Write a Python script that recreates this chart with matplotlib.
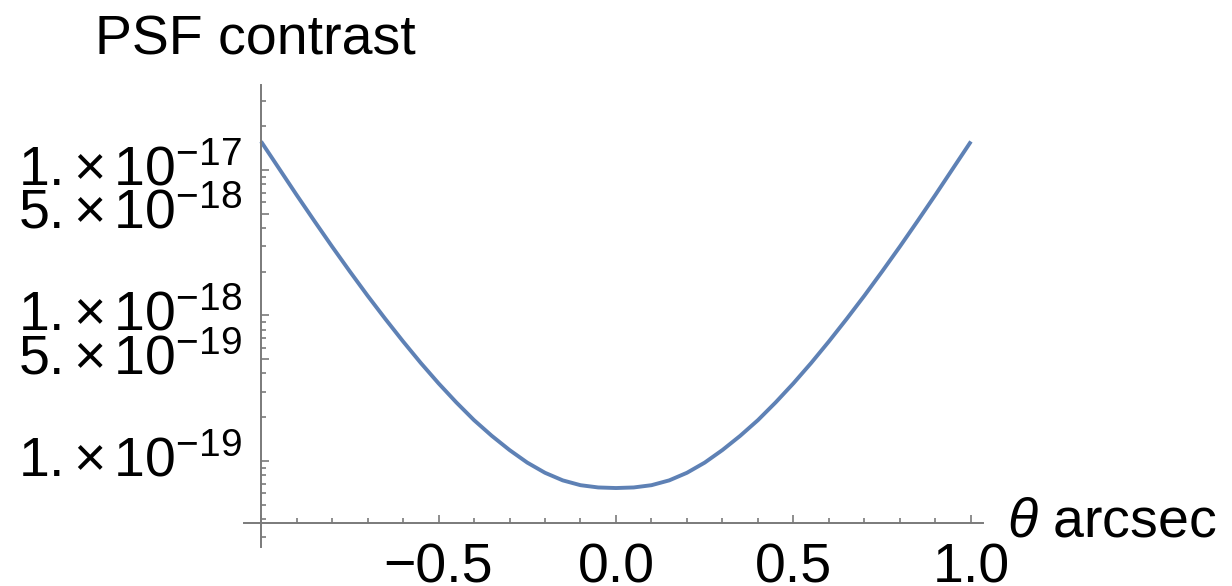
""" PSF contrast against angle, Mathematica-style log plot """

import matplotlib
matplotlib.use("Agg")
import matplotlib.pyplot as plt
from matplotlib.ticker import FixedLocator, FixedFormatter, LogLocator, NullFormatter
from matplotlib.transforms import ScaledTranslation

plt.rcParams["font.family"] = ["Liberation Sans", "DejaVu Sans"]
plt.rcParams["mathtext.fontset"] = "custom"
plt.rcParams["mathtext.rm"] = "Liberation Sans"
plt.rcParams["mathtext.it"] = "Liberation Sans:italic"

# angle (arcsec) and contrast
theta = [-1.00, -0.95, -0.90, -0.85, -0.80, -0.75, -0.70, -0.65, -0.60, -0.55,
         -0.50, -0.45, -0.40, -0.35, -0.30, -0.25, -0.20, -0.15, -0.10, -0.05,
         0.00, 0.05, 0.10, 0.15, 0.20, 0.25, 0.30, 0.35, 0.40, 0.45,
         0.50, 0.55, 0.60, 0.65, 0.70, 0.75, 0.80, 0.85, 0.90, 0.95, 1.00]
contrast = [1.57e-17, 1.03e-17, 6.75e-18, 4.47e-18, 2.98e-18, 2.01e-18, 1.37e-18,
            9.48e-19, 6.64e-19, 4.72e-19, 3.42e-19, 2.53e-19, 1.91e-19, 1.49e-19,
            1.19e-19, 9.75e-20, 8.30e-20, 7.36e-20, 6.82e-20, 6.58e-20,
            6.52e-20,
            6.58e-20, 6.82e-20, 7.36e-20, 8.30e-20, 9.75e-20, 1.19e-19, 1.49e-19,
            1.91e-19, 2.53e-19, 3.42e-19, 4.72e-19, 6.64e-19, 9.48e-19, 1.37e-18,
            2.01e-18, 2.98e-18, 4.47e-18, 6.75e-18, 1.03e-17, 1.57e-17]

xtick_vals = [-1.0, -0.5, 0.0, 0.5, 1.0]
xtick_labels = ["", "\u22120.5", "0.0", "0.5", "1.0"]
ytick_vals = [1e-19, 5e-19, 1e-18, 5e-18, 1e-17]
ytick_labels = [r"$\mathregular{1.{\times}\,10^{-19}}$",
                r"$\mathregular{5.{\times}\,10^{-19}}$",
                r"$\mathregular{1.{\times}\,10^{-18}}$",
                r"$\mathregular{5.{\times}\,10^{-18}}$",
                r"$\mathregular{1.{\times}\,10^{-17}}$"]

AXIS_GREY = "#7a7a7a"
LINE_BLUE = "#5e81b5"
FS = 40

fig = plt.figure(figsize=(12.32, 5.86), dpi=100)
ax = fig.add_axes([244 / 1232, 1 - 547 / 586, 739 / 1232, 462 / 586])

ax.plot(theta, contrast, color=LINE_BLUE, lw=2.8, solid_joinstyle="round",
        solid_capstyle="butt", clip_on=False)

ax.set_yscale("log")
ax.set_xlim(-1.048, 1.034)
ax.set_ylim(10 ** -19.591, 10 ** -16.416)

for side in ("top", "right"):
    ax.spines[side].set_visible(False)
ax.spines["left"].set_position(("data", -1.0))
ax.spines["bottom"].set_position(("data", 10 ** -19.426))
for side in ("left", "bottom"):
    ax.spines[side].set_color(AXIS_GREY)
    ax.spines[side].set_linewidth(1.4)

ax.xaxis.set_major_locator(FixedLocator(xtick_vals))
ax.xaxis.set_major_formatter(FixedFormatter(xtick_labels))
ax.xaxis.set_minor_locator(FixedLocator([i / 10 for i in range(-10, 11)]))

ax.yaxis.set_major_locator(FixedLocator(ytick_vals))
ax.yaxis.set_major_formatter(FixedFormatter(ytick_labels))
ax.yaxis.set_minor_locator(LogLocator(base=10, subs=range(2, 10), numticks=20))
ax.yaxis.set_minor_formatter(NullFormatter())

ax.tick_params(which="both", direction="in", color=AXIS_GREY, width=1.2,
               labelsize=FS, labelcolor="black")
ax.tick_params(which="major", length=6)
ax.tick_params(which="minor", length=3.5)
ax.tick_params(axis="x", which="major", pad=14)
ax.tick_params(axis="y", which="major", pad=13.5)

# lift the y labels so the mantissa, not the whole label, sits on the tick
lift = ScaledTranslation(0, 5 / 100, fig.dpi_scale_trans)
for lab in ax.get_yticklabels():
    lab.set_transform(lab.get_transform() + lift)

ax.text(-0.2016, 1.065, "PSF contrast", transform=ax.transAxes,
        fontsize=FS, ha="left", va="baseline")
ax.text(1.0325, 0.052, r"$\theta$ arcsec", transform=ax.transAxes,
        fontsize=FS, ha="left", va="center")

fig.savefig("out.png", dpi=100)
